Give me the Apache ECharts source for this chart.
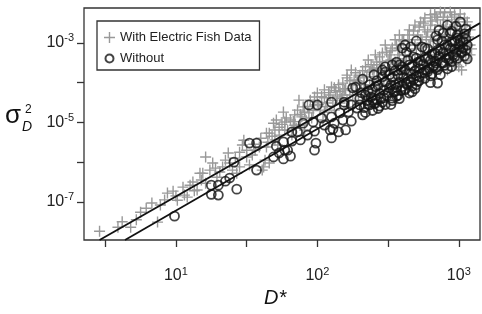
<!DOCTYPE html>
<html>
<head>
<meta charset="utf-8">
<script src="https://cdn.jsdelivr.net/npm/echarts@6/dist/echarts.min.js"></script>
<style>
  html, body { margin: 0; padding: 0; background: #fff; }
  #chart { width: 482px; height: 314px; }
</style>
</head>
<body>
<div id="chart"></div>
<script>
// all values are log10 exponents: [log10(D*), log10(sigma_D^2)]
const withFishPts = [
  [0.46,-7.74],[0.59,-7.64],[0.68,-7.64],[0.75,-7.26],[0.79,-7.16],[0.83,-7.03],[0.87,-7.51],[0.94,-6.78],
  [0.98,-6.73],[1.01,-6.96],[1.05,-6.63],[1.10,-6.58],[1.15,-6.70],[1.19,-6.28],[1.21,-5.87],[1.26,-6.02],
  [1.31,-6.25],[1.37,-5.77],[1.40,-6.20],[1.45,-6.12],[1.47,-5.57],[1.48,-5.45],[1.17,-6.28],[1.21,-6.53],
  [1.33,-6.12],[1.38,-6.02],[1.50,-5.87],[1.54,-5.82],[1.59,-5.62],[1.64,-5.27],[1.63,-5.95],[1.08,-6.88],
  [1.13,-6.72],[1.29,-6.38],[1.43,-6.28],[1.61,-6.20],[1.24,-6.20],[1.52,-6.07],[1.66,-6.02],[1.62,-6.12],
  [0.89,-7.08],[1.06,-6.83],[1.42,-5.90],[1.56,-5.70],[1.70,-5.44],[1.73,-5.32],
  [1.66,-5.27],[1.69,-5.02],[1.81,-4.94],[1.86,-4.69],[1.90,-4.61],[1.95,-4.44],[2.00,-4.26],[2.05,-4.18],
  [2.10,-4.11],[2.18,-4.01],[2.21,-3.81],[2.19,-4.18],[2.14,-4.36],[2.07,-4.51],[2.02,-4.69],[1.89,-4.86],
  [1.73,-5.12],[1.78,-4.89],[1.64,-5.62],[1.84,-5.07],[1.94,-4.76],[2.04,-4.94],[2.16,-4.51],[2.21,-4.44],
  [2.22,-4.61],[1.71,-4.94],[1.77,-5.19],[1.88,-5.07],[1.98,-4.56],[2.09,-4.31],[2.12,-4.69],[1.96,-4.89],
  [1.82,-5.32],[1.72,-5.57],[1.91,-5.19],[2.05,-4.74],[2.16,-4.23],[1.76,-4.74],[1.87,-4.44],[1.98,-4.36],
  [2.21,-3.88],[2.42,-3.48],[2.46,-3.25],[2.49,-3.23],[2.53,-3.13],[2.60,-2.92],[2.39,-3.68],[2.30,-3.81],
  [2.34,-3.60],[2.27,-4.06],[2.24,-3.68],[2.36,-3.43],[2.41,-3.30],[2.48,-3.05],[2.55,-2.92],[2.58,-2.80],
  [2.65,-2.67],[2.69,-2.55],[2.73,-2.47],[2.76,-2.37],[2.80,-2.29],[2.83,-2.27],[2.87,-2.22],[2.90,-2.24],
  [2.94,-2.22],[2.97,-2.29],[3.01,-2.27],[3.04,-2.37],[3.06,-2.47],[3.08,-2.67],[3.06,-2.92],[3.04,-3.18],
  [3.08,-3.30],[3.01,-3.43],[2.97,-3.30],[2.94,-3.05],[2.90,-2.80],[2.87,-2.55],[2.83,-2.67],[2.80,-2.92],
  [2.76,-2.67],[2.73,-2.92],[2.69,-3.05],[2.65,-3.18],[2.62,-3.30],[2.58,-3.30],[2.55,-3.48],[2.51,-3.68],
  [2.48,-3.81],[2.44,-3.93],[2.37,-4.06],[2.31,-4.18],[2.29,-4.31],[2.23,-4.31],[2.73,-3.30],[2.80,-3.30],
  [2.87,-3.18],[2.94,-2.67],[2.97,-2.55],[3.01,-2.80],[2.90,-3.30],[2.83,-3.43],[2.76,-3.55],[2.69,-3.43],
  [2.62,-3.68],[2.57,-3.88],[2.50,-4.06],[2.43,-4.18],[2.36,-4.36],[3.01,-3.05],[3.08,-3.05],[3.04,-2.67],
  [2.80,-2.55],[2.65,-2.92],[2.58,-3.13],[2.51,-3.30],[2.44,-3.55],[2.37,-3.73],[2.30,-3.98],[2.97,-3.55],
  [2.92,-3.68],[3.02,-3.68],[2.87,-3.68],[2.85,-2.42],[2.92,-2.42],[2.99,-2.47],[2.78,-2.72],[2.71,-2.80],
  [2.64,-3.05],[2.57,-3.18],[2.52,-3.43],[2.46,-3.48],[2.40,-3.63],[2.33,-3.88],[2.26,-3.93],[2.18,-4.31],
  [2.12,-4.13],[2.05,-4.38],[2.00,-4.49],[1.91,-4.74],[1.84,-4.81],[1.77,-4.99],[1.70,-5.19],
  [1.60,-5.40],[1.65,-5.50],[1.68,-5.35],[1.75,-5.05],[1.79,-5.20],[1.83,-4.98],[1.85,-5.15],[1.88,-4.80],
  [1.92,-4.95],[1.93,-4.60],[1.97,-4.70],[2.01,-4.55],[2.03,-4.35],[2.06,-4.60],[2.08,-4.25],[2.11,-4.45],
  [2.13,-4.20],[2.15,-4.05],[2.17,-4.40],[2.20,-4.15],[2.23,-3.95],[2.25,-4.20],[2.27,-3.75],[2.28,-3.95],
  [2.32,-3.70],[2.33,-4.05],[2.35,-3.85],[2.38,-3.55],[2.40,-3.85],[2.42,-3.70],[2.44,-3.35],[2.45,-3.65],
  [2.47,-3.90],[2.50,-3.45],[2.52,-3.20],[2.54,-3.60],[2.56,-3.05],[2.57,-3.40],[2.59,-3.55],[2.61,-2.95],
  [2.63,-3.45],[2.64,-2.80],[2.66,-3.30],[2.68,-2.70],[2.70,-3.15],[2.72,-2.60],[2.74,-3.00],[2.75,-2.50],
  [2.77,-2.85],[2.79,-3.10],[2.81,-2.45],[2.82,-2.95],[2.84,-2.35],[2.86,-2.90],[2.88,-3.40],[2.89,-2.35],
  [2.91,-2.60],[2.93,-2.90],[2.95,-2.35],[2.96,-3.15],[2.98,-2.65],[3.00,-2.40],[3.02,-2.90],[3.03,-3.20],
  [3.05,-2.55],[3.07,-2.85],[3.09,-3.15],[3.05,-3.45],[3.00,-3.60],[2.95,-3.45],[2.85,-3.55],[2.78,-3.55],
  [2.70,-3.62],[2.60,-3.80],[2.52,-3.95],[2.45,-4.05],[2.35,-4.25],[2.25,-4.45],[1.55,-5.55],[1.50,-5.70],
  [1.45,-5.75],[1.35,-5.95],[1.28,-6.15],[1.18,-6.45],[1.12,-6.50],[1.00,-6.85],[0.92,-6.95],[0.72,-7.45],
  [0.62,-7.50]
];
const withoutPts = [
  [0.99,-7.36],[1.25,-6.58],[1.30,-6.58],[1.25,-6.81],[1.30,-6.83],[1.35,-6.48],[1.38,-6.40],[1.41,-6.00],
  [1.43,-6.68],[1.52,-5.52],[1.57,-5.52],[1.57,-6.20],[1.69,-5.87],[1.73,-5.77],[1.76,-5.92],[1.79,-5.70],
  [1.81,-5.85],
  [1.94,-4.56],[2.00,-4.56],[2.10,-4.49],[2.16,-4.76],[2.22,-4.74],[2.03,-4.89],[1.97,-4.99],[1.90,-5.02],
  [1.82,-5.24],[1.86,-5.24],[1.76,-5.49],[1.82,-5.47],[1.71,-5.60],[1.77,-5.70],[1.98,-5.22],[1.99,-5.52],
  [1.98,-5.70],[2.09,-5.19],[2.10,-5.39],[2.11,-5.17],[2.12,-5.02],[2.18,-4.94],[2.20,-5.19],[2.15,-5.24],
  [2.10,-4.86],[1.88,-5.44],[1.93,-5.32],[2.05,-5.07],[2.19,-4.56],
  [2.62,-3.05],[2.63,-3.23],[2.56,-3.48],[2.64,-3.43],[2.48,-3.73],[2.53,-3.55],[2.32,-3.91],[2.25,-4.13],
  [2.19,-4.49],[2.59,-3.68],[2.67,-4.23],[2.53,-4.39],[2.46,-4.49],[2.39,-4.44],[2.30,-4.56],[2.24,-4.56],
  [2.63,-4.01],[2.70,-3.38],[2.92,-2.55],[3.01,-2.47],[2.84,-2.82],[2.85,-2.92],[2.94,-2.75],[2.99,-2.80],
  [2.74,-3.10],[2.60,-3.13],[2.46,-3.68],[2.27,-4.11],[2.85,-4.01],[2.65,-4.26],[2.56,-4.34],[2.44,-4.59],
  [2.37,-4.56],[2.32,-4.81],[2.28,-4.64],[2.24,-4.97],[3.01,-2.95],[3.03,-3.13],[2.76,-3.76],[2.82,-3.58],
  [2.51,-4.13],[2.89,-2.75],[2.95,-2.70],[2.76,-3.13],[2.80,-3.83],
  [2.34,-4.31],[2.35,-4.45],[2.33,-4.63],[2.34,-4.75],[2.39,-4.18],[2.38,-4.36],[2.40,-4.53],[2.39,-4.70],
  [2.43,-4.07],[2.44,-4.27],[2.42,-4.43],[2.43,-4.65],[2.48,-3.98],[2.47,-4.19],[2.49,-4.33],[2.48,-4.55],
  [2.53,-3.87],[2.52,-4.06],[2.54,-4.24],[2.53,-4.45],[2.57,-3.81],[2.58,-3.99],[2.56,-4.12],[2.57,-4.32],
  [2.62,-3.67],[2.61,-3.86],[2.63,-4.04],[2.62,-4.18],[2.67,-3.58],[2.66,-3.77],[2.68,-3.92],[2.67,-4.09],
  [2.71,-3.48],[2.72,-3.64],[2.70,-3.81],[2.71,-3.97],[2.76,-3.37],[2.75,-3.54],[2.77,-3.68],[2.76,-3.89],
  [2.81,-3.28],[2.80,-3.44],[2.82,-3.59],[2.81,-3.78],[2.85,-3.18],[2.86,-3.33],[2.84,-3.51],[2.85,-3.67],
  [2.90,-3.05],[2.89,-3.24],[2.91,-3.38],[2.90,-3.56],[2.95,-2.97],[2.94,-3.14],[2.96,-3.30],[2.95,-3.47],
  [2.99,-2.87],[3.00,-3.04],[2.98,-3.22],[2.99,-3.39],[3.04,-2.77],[3.03,-2.96],[3.05,-3.18],[3.04,-3.33],
  [2.30,-4.40],[2.31,-4.25],[2.36,-4.20],[2.37,-4.05],[2.41,-4.10],[2.42,-3.95],[2.45,-4.40],[2.46,-3.85],
  [2.50,-4.25],[2.51,-3.80],[2.55,-4.05],[2.55,-3.70],[2.59,-4.20],[2.60,-3.60],[2.64,-3.90],[2.65,-3.55],
  [2.69,-3.70],[2.70,-4.05],[2.73,-3.45],[2.74,-3.75],[2.78,-3.40],[2.79,-3.65],[2.83,-3.25],[2.83,-3.45],
  [2.87,-3.15],[2.88,-3.50],[2.92,-3.05],[2.93,-3.30],[2.97,-2.95],[2.97,-3.15],[3.01,-3.10],[3.02,-3.25],
  [3.05,-2.90],[3.06,-3.05],[2.88,-2.95],[2.78,-3.15],[2.68,-3.35],[2.58,-3.55],[2.48,-3.60],[2.40,-3.80],
  [2.72,-3.95],[2.62,-4.15],[2.52,-4.55],[2.80,-4.00],[2.95,-3.60],[3.05,-2.65],[2.98,-2.58],[2.86,-2.68],
  [2.70,-2.95],[2.66,-3.10],
  [2.36,-4.55],[2.41,-4.52],[2.47,-4.38],[2.55,-4.22],[2.60,-4.10],[2.66,-3.98],[2.72,-3.85],[2.78,-3.72],
  [2.84,-3.62],[2.89,-3.50],[2.93,-3.42],[2.97,-3.35],[3.02,-3.22],[2.69,-4.15],[2.58,-4.40],[2.87,-3.80],
  [3.06,-3.40],[2.92,-3.65]
];
const fitWithPts = [[0.46,-7.96],[3.15,-2.50]];
const fitWithoutPts = [[0.64,-7.96],[3.15,-2.80]];
const xTickExp = [0.5,1,1.5,2,2.5,3];
const xLabelExp = [1,2,3];
const yTickExp = [-7,-6,-5,-4,-3];
const yLabelExp = [-7,-5,-3];

const FONT = '"Liberation Sans", Arial, sans-serif';
const crossPath = 'path://M4.8,0H6.2V4.8H11V6.2H6.2V11H4.8V6.2H0V4.8H4.8Z';
const powLabel = {
  formatter: v => '{b|10}{e|' + v + '}',
  rich: {
    b: {fontSize: 16, fontFamily: FONT, color: '#222'},
    e: {fontSize: 11, fontFamily: FONT, color: '#222', padding: [0, 0, 9, 0]}
  }
};

let chart = echarts.init(document.getElementById('chart'));
chart.setOption({
  animation: false,
  textStyle: {fontFamily: FONT},
  grid: {
    left: 84, right: 2, top: 8, bottom: 74,
    show: true, borderColor: '#333', borderWidth: 1.3
  },
  legend: {
    orient: 'vertical',
    left: 97, top: 21,
    padding: [10, 8, 5, 6],
    itemWidth: 11, itemHeight: 11,
    itemGap: 8, itemTextGap: 9,
    borderColor: '#333', borderWidth: 1.3,
    backgroundColor: '#fff',
    textStyle: {fontSize: 13, color: '#222', fontFamily: FONT},
    data: [
      {name: 'With Electric Fish Data', icon: crossPath},
      {name: 'Without', icon: 'path://M0,0M22,22M11,3A8,8,0,1,1,10.99,3Z'}
    ]
  },
  xAxis: {
    type: 'value', min: 0.35, max: 3.15,
    axisLine: {show: false},
    splitLine: {show: false},
    axisTick: {customValues: xTickExp, length: 7, lineStyle: {color: '#333', width: 1.3}},
    axisLabel: Object.assign({customValues: xLabelExp, margin: 26}, powLabel)
  },
  yAxis: {
    type: 'value', min: -7.96, max: -2.12,
    axisLine: {show: false},
    splitLine: {show: false},
    axisTick: {customValues: yTickExp, length: 7, lineStyle: {color: '#333', width: 1.3}},
    axisLabel: Object.assign({customValues: yLabelExp, margin: 10}, powLabel)
  },
  graphic: [
    {type: 'text', left: 5, top: 103, style: {text: 'σ', fontSize: 26, fontFamily: FONT, fill: '#111'}},
    {type: 'text', left: 25, top: 104, style: {text: '2', fontSize: 12, fontFamily: FONT, fill: '#111'}},
    {type: 'text', left: 22, top: 120, style: {text: 'D', fontSize: 14, fontStyle: 'italic', fontFamily: FONT, fill: '#111'}},
    {type: 'text', left: 264, top: 288, style: {text: 'D*', fontSize: 20, fontStyle: 'italic', fontFamily: FONT, fill: '#111'}}
  ],
  series: [
    {
      name: 'With Electric Fish Data',
      type: 'scatter',
      symbol: crossPath,
      symbolSize: 11,
      itemStyle: {color: '#999', opacity: 1},
      data: withFishPts
    },
    {
      name: 'Without',
      type: 'scatter',
      symbol: 'circle',
      symbolSize: 9,
      itemStyle: {color: 'rgba(255,255,255,0)', borderColor: '#151515', borderWidth: 1.8},
      data: withoutPts
    },
    {
      type: 'line', data: fitWithPts, symbol: 'none',
      lineStyle: {color: '#111', width: 1.8}
    },
    {
      type: 'line', data: fitWithoutPts, symbol: 'none',
      lineStyle: {color: '#111', width: 1.8}
    }
  ]
});
</script>
</body>
</html>
